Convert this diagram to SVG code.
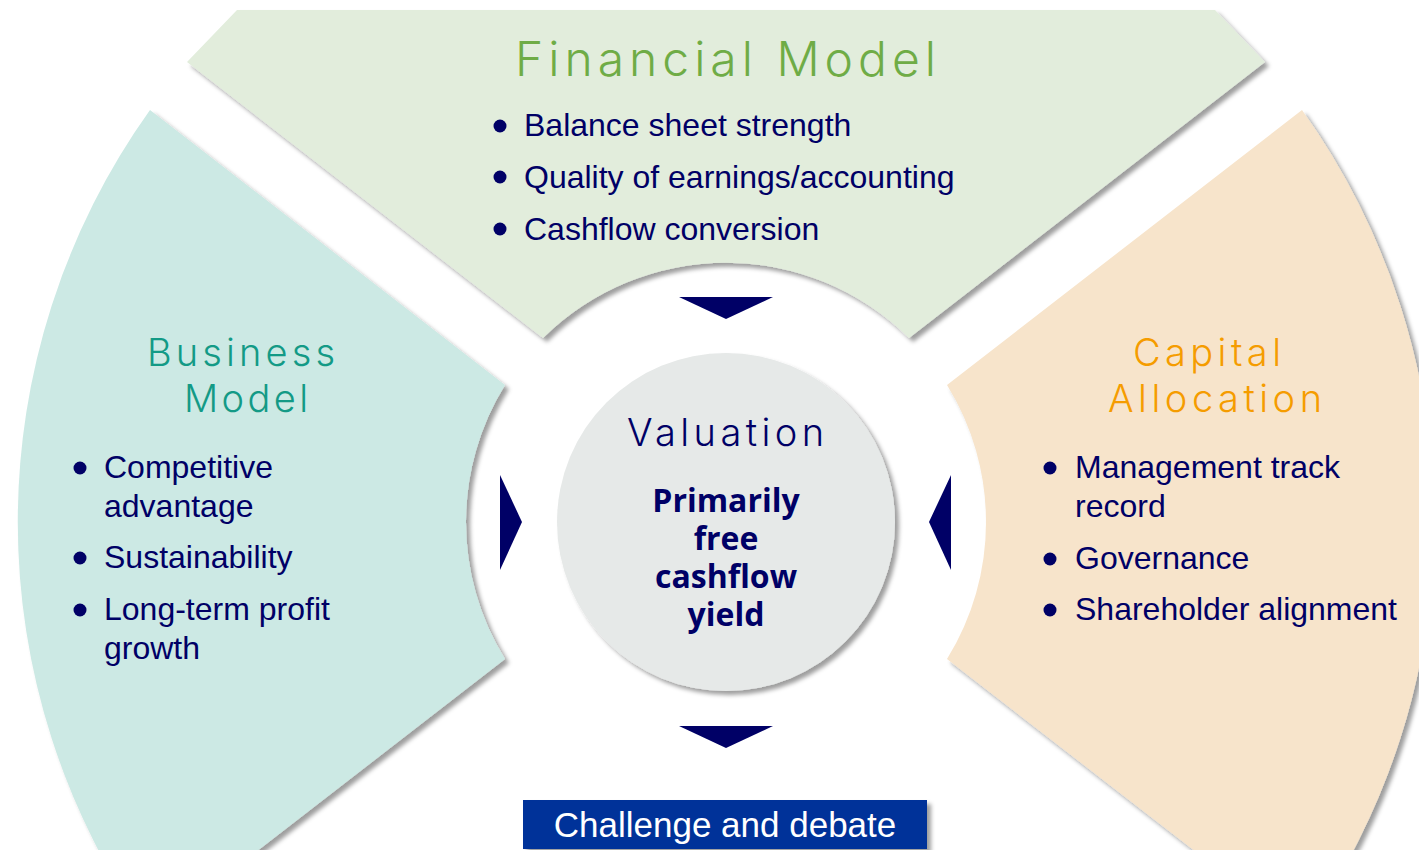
<svg xmlns="http://www.w3.org/2000/svg" width="1419" height="850" viewBox="0 0 1419 850">
  <style>
    .body { font-family: "Liberation Sans", Arial, sans-serif; font-size: 32px; fill: #000066; }
    .head { font-family: Inter, "Open Sans", "Liberation Sans", Arial, sans-serif; font-weight: 300; }
    .bold { font-family: "Open Sans", "DejaVu Sans", sans-serif; font-weight: 700; font-size: 32px; fill: #000066; text-anchor: middle; }
    .dot { fill: #000066; }
    .arrow { fill: #000066; }
  </style>
  <defs>
    <filter id="shadow" x="-10%" y="-10%" width="125%" height="125%">
      <feGaussianBlur in="SourceAlpha" stdDeviation="2"/>
      <feOffset dx="4" dy="4" result="off"/>
      <feFlood flood-color="#000000" flood-opacity="0.38"/>
      <feComposite in2="off" operator="in" result="shade"/>
      <feMerge>
        <feMergeNode in="shade"/>
        <feMergeNode in="SourceGraphic"/>
      </feMerge>
    </filter>
  </defs>

  <rect width="1419" height="850" fill="#ffffff"/>

  <!-- Financial Model segment (top) -->
  <g id="financial-model">
    <path d="M237,10 L1215,10 L1265,62 L909,338 A260,260 0 0 0 543,338 L187,62 Z" fill="#e2eddc" filter="url(#shadow)"/>
    <text class="head" x="515" y="76" font-size="48" fill="#6fac46" textLength="421" lengthAdjust="spacing">Financial Model</text>
    <circle class="dot" cx="500" cy="126" r="6.5"/>
    <text class="body" x="524" y="136">Balance sheet strength</text>
    <circle class="dot" cx="500" cy="177" r="6.5"/>
    <text class="body" x="524" y="188">Quality of earnings/accounting</text>
    <circle class="dot" cx="500" cy="229" r="6.5"/>
    <text class="body" x="524" y="240">Cashflow conversion</text>
  </g>

  <!-- Business Model segment (left) -->
  <g id="business-model">
    <path d="M150,110 L505,385 A260,260 0 0 0 505,659 L150,934 A708,708 0 0 1 150,110 Z" fill="#cce9e4" filter="url(#shadow)"/>
    <text class="head" x="147" y="366" font-size="38" fill="#139a86" textLength="188" lengthAdjust="spacing">Business</text>
    <text class="head" x="184" y="412" font-size="38" fill="#139a86" textLength="124" lengthAdjust="spacing">Model</text>
    <circle class="dot" cx="80" cy="468" r="6.5"/>
    <text class="body" x="104" y="478">Competitive</text>
    <text class="body" x="104" y="517">advantage</text>
    <circle class="dot" cx="80" cy="558" r="6.5"/>
    <text class="body" x="104" y="568">Sustainability</text>
    <circle class="dot" cx="80" cy="610" r="6.5"/>
    <text class="body" x="104" y="620">Long-term profit</text>
    <text class="body" x="104" y="659">growth</text>
  </g>

  <!-- Capital Allocation segment (right) -->
  <g id="capital-allocation">
    <path d="M1302,110 L947,385 A260,260 0 0 1 947,659 L1302,934 A708,708 0 0 0 1302,110 Z" fill="#f7e4cb" filter="url(#shadow)"/>
    <text class="head" x="1133" y="366" font-size="38" fill="#f59c00" textLength="148" lengthAdjust="spacing">Capital</text>
    <text class="head" x="1108" y="412" font-size="38" fill="#f59c00" textLength="214" lengthAdjust="spacing">Allocation</text>
    <circle class="dot" cx="1050" cy="468" r="6.5"/>
    <text class="body" x="1075" y="478">Management track</text>
    <text class="body" x="1075" y="517">record</text>
    <circle class="dot" cx="1050" cy="559" r="6.5"/>
    <text class="body" x="1075" y="569">Governance</text>
    <circle class="dot" cx="1050" cy="610" r="6.5"/>
    <text class="body" x="1075" y="620">Shareholder alignment</text>
  </g>

  <!-- Valuation hub -->
  <g id="valuation">
    <circle cx="726" cy="522" r="169" fill="#e6e9e8" filter="url(#shadow)"/>
    <text class="head" x="627" y="446" font-size="38" fill="#000066" textLength="197" lengthAdjust="spacing">Valuation</text>
    <text class="bold" x="726" y="512">Primarily</text>
    <text class="bold" x="726" y="550">free</text>
    <text class="bold" x="726" y="588">cashflow</text>
    <text class="bold" x="726" y="626">yield</text>
  </g>

  <!-- Outcome box -->
  <g id="challenge-and-debate">
    <rect x="523" y="800" width="404" height="49" fill="#003399" filter="url(#shadow)"/>
    <text x="725" y="837" font-family="Liberation Sans, Arial, sans-serif" font-size="35" fill="#ffffff" text-anchor="middle">Challenge and debate</text>
  </g>

  <!-- Flow arrows into and out of the hub -->
  <g id="connectors">
    <polygon class="arrow" points="679,297 773,297 726,319"/>
    <polygon class="arrow" points="500,475 500,570 522,522"/>
    <polygon class="arrow" points="951,475 951,570 929,522"/>
    <polygon class="arrow" points="679,726 773,726 726,748"/>
  </g>
</svg>
